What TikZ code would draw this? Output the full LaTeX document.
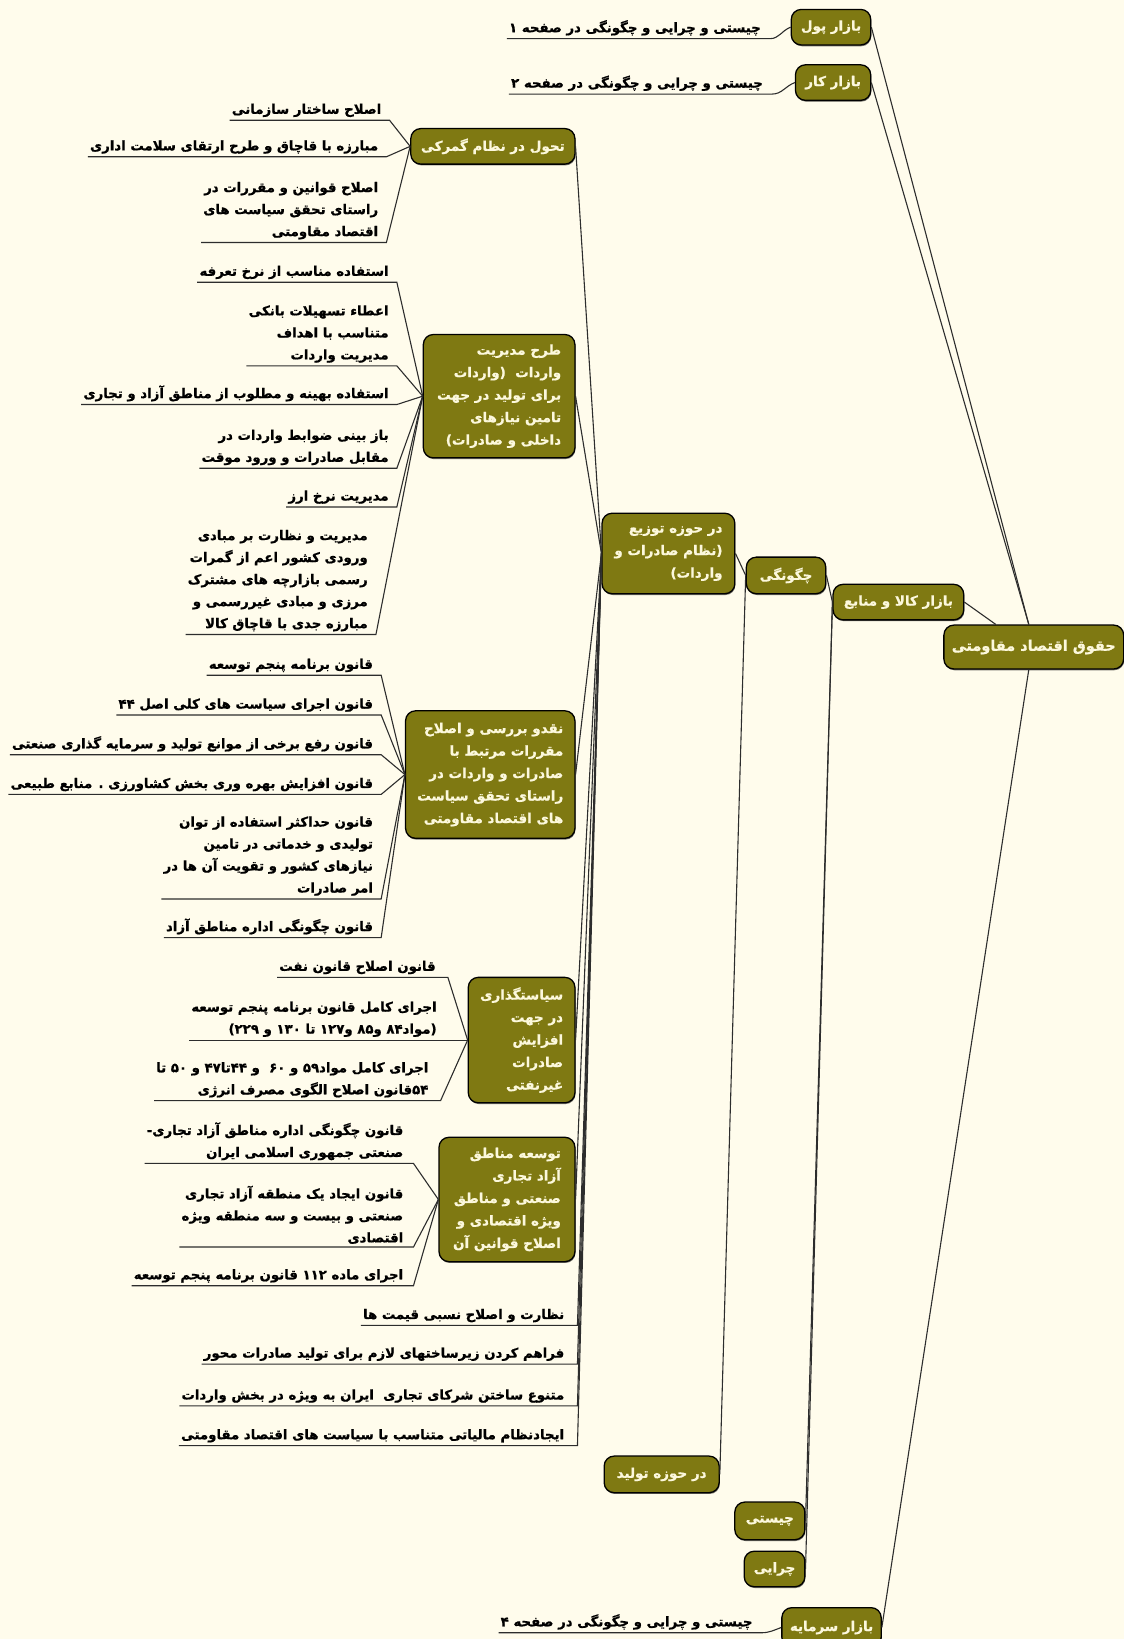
\documentclass[tikz,border=0pt]{standalone}
\usepackage{fontspec}
\newfontfamily\fa[Script=Arabic, BoldFeatures={FakeBold=0.9}]{DejaVu Sans}
\TeXXeTstate=1
\usetikzlibrary{shadows}
\definecolor{bg}{RGB}{255,252,236}
\definecolor{olivebox}{RGB}{127,121,18}
\definecolor{boxtext}{RGB}{252,248,220}
\definecolor{linec}{RGB}{45,45,45}
\newcommand\RL[1]{\beginR#1\endR}
\begin{document}
\begin{tikzpicture}[x=1.0456pt,y=-1.0456pt,
  bw/.style={minimum width=#1*1.0456pt},
  bh/.style={minimum height=#1*1.0456pt},
  box/.style={rounded corners=10pt, fill=olivebox, draw=black, line width=1.3pt,
    text=boxtext, font=\fa\bfseries\fontsize{13.5}{22.5}\selectfont, align=right, inner sep=2pt,
    drop shadow={shadow xshift=0.6pt, shadow yshift=-1.3pt, opacity=0.55, fill=black}},
  leaf/.style={anchor=south east, inner xsep=0pt, inner ysep=3pt,
    font=\fa\bfseries\fontsize{13.3}{22}\selectfont, align=right, text=black},
  conn/.style={draw=linec, line width=1.1pt}]
\fill[bg] (0,0) rectangle (1075,1568);
\useasboundingbox (0,0) rectangle (1075,1568);

% boxes
\node[box,bw=172,bh=42,font=\fa\bfseries\fontsize{14.5}{22}\selectfont] (root) at (989,619) {\RL{حقوق اقتصاد مقاومتی}};
\node[box,bw=76,bh=34] (pool) at (795,26) {\RL{بازار پول}};
\node[box,bw=72,bh=34] (kar) at (797,79) {\RL{بازار کار}};
\node[box,bw=125,bh=34] (kala) at (859.5,576) {\RL{بازار کالا و منابع}};
\node[box,bw=76,bh=35] (chg) at (752,550.5) {\RL{چگونگی}};
\node[box,bw=127,bh=77] (tozi) at (639.5,529.5) {\RL{در حوزه توزیع}\\\RL{(نظام صادرات و}\\\RL{واردات)}};
\node[box,bw=110,bh=35] (tolid) at (633,1410.5) {\RL{در حوزه تولید}};
\node[box,bw=67,bh=36] (chisti) at (736.5,1455) {\RL{چیستی}};
\node[box,bw=58,bh=34] (cheraei) at (741,1501) {\RL{چرایی}};
\node[box,bw=95,bh=38] (sarmaye) at (795.5,1557) {\RL{بازار سرمایه}};
\node[box,bw=157,bh=34] (gomrok) at (471.5,140) {\RL{تحول در نظام گمرکی}};
\node[box,bw=145,bh=118] (tarh) at (477.5,379) {\RL{طرح مدیریت}\\\RL{واردات\ \ (واردات}\\\RL{برای تولید در جهت}\\\RL{تامین نیازهای}\\\RL{داخلی و صادرات)}};
\node[box,bw=162,bh=122] (naghd) at (469,741) {\RL{نقدو بررسی و اصلاح}\\\RL{مقررات مرتبط با}\\\RL{صادرات و واردات در}\\\RL{راستای تحقق سیاست}\\\RL{های اقتصاد مقاومتی}};
\node[box,bw=102,bh=120] (siasat) at (499,995) {\RL{سیاستگذاری}\\\RL{در جهت}\\\RL{افزایش}\\\RL{صادرات}\\\RL{غیرنفتی}};
\node[box,bw=130,bh=119] (tosee) at (485,1147.5) {\RL{توسعه مناطق}\\\RL{آزاد تجاری}\\\RL{صنعتی و مناطق}\\\RL{ویژه اقتصادی و}\\\RL{اصلاح قوانین آن}};

% leaves
\node[leaf] (p1) at (728,37) {\RL{چیستی و چرایی و چگونگی در صفحه ۱}};
\node[leaf] (p2) at (730,90) {\RL{چیستی و چرایی و چگونگی در صفحه ۲}};
\node[leaf] (p4) at (720,1562) {\RL{چیستی و چرایی و چگونگی در صفحه ۴}};

\node[leaf] (g1) at (365,115) {\RL{اصلاح ساختار سازمانی}};
\node[leaf] (g2) at (362,150) {\RL{مبارزه با قاچاق و طرح ارتقای سلامت اداری}};
\node[leaf] (g3) at (362,232) {\RL{اصلاح قوانین و مقررات در}\\\RL{راستای تحقق سیاست های}\\\RL{اقتصاد مقاومتی}};

\node[leaf] (t1) at (372,270) {\RL{استفاده مناسب از نرخ تعرفه}};
\node[leaf] (t2) at (372,350) {\RL{اعطاء تسهیلات بانکی}\\\RL{متناسب با اهداف}\\\RL{مدیریت واردات}};
\node[leaf] (t3) at (372,387) {\RL{استفاده بهینه و مطلوب از مناطق آزاد و تجاری}};
\node[leaf] (t4) at (372,448) {\RL{باز بینی ضوابط واردات در}\\\RL{مقابل صادرات و ورود موقت}};
\node[leaf] (t5) at (372,485) {\RL{مدیریت نرخ ارز}};
\node[leaf] (t6) at (352,607) {\RL{مدیریت و نظارت بر مبادی}\\\RL{ورودی کشور اعم از گمرات}\\\RL{رسمی بازارچه های مشترک}\\\RL{مرزی و مبادی غیررسمی و}\\\RL{مبارزه جدی با قاچاق کالا}};

\node[leaf] (n1) at (357,646) {\RL{قانون برنامه پنجم توسعه}};
\node[leaf] (n2) at (357,684) {\RL{قانون اجرای سیاست های کلی اصل ۴۴}};
\node[leaf] (n3) at (357,722) {\RL{قانون رفع برخی از موانع تولید و سرمایه گذاری صنعتی}};
\node[leaf] (n4) at (357,760) {\RL{قانون افزایش بهره وری بخش کشاورزی . منابع طبیعی}};
\node[leaf] (n5) at (357,860) {\RL{قانون حداکثر استفاده از توان}\\\RL{تولیدی و خدماتی در تامین}\\\RL{نیازهای کشور و تقویت آن ها در}\\\RL{امر صادرات}};
\node[leaf] (n6) at (357,897) {\RL{قانون چگونگی اداره مناطق آزاد}};

\node[leaf] (s1) at (417,935) {\RL{قانون اصلاح قانون نفت}};
\node[leaf] (s2) at (418,995) {\RL{اجرای کامل قانون برنامه پنجم توسعه}\\\RL{(مواد۸۴ و۸۵ و۱۲۷ تا ۱۳۰ و ۲۲۹)}};
\node[leaf] (s3) at (410,1053) {\RL{اجرای کامل مواد۵۹ و ۶۰\ \ و ۴۴تا۴۷ و ۵۰ تا}\\\RL{۵۴قانون اصلاح الگوی مصرف انرژی}};

\node[leaf] (e1) at (386,1113) {\RL{قانون چگونگی اداره مناطق آزاد تجاری-}\\\RL{صنعتی جمهوری اسلامی ایران}};
\node[leaf] (e2) at (386,1193) {\RL{قانون ایجاد یک منطقه آزاد تجاری}\\\RL{صنعتی و بیست و سه منطقه ویژه}\\\RL{اقتصادی}};
\node[leaf] (e3) at (386,1230) {\RL{اجرای ماده ۱۱۲ قانون برنامه پنجم توسعه}};

\node[leaf] (d1) at (540,1268) {\RL{نظارت و اصلاح نسبی قیمت ها}};
\node[leaf] (d2) at (540,1305) {\RL{فراهم کردن زیرساختهای لازم برای تولید صادرات محور}};
\node[leaf] (d3) at (540,1345) {\RL{متنوع ساختن شرکای تجاری\ \ ایران به ویژه در بخش واردات}};
\node[leaf] (d4) at (540,1383) {\RL{ایجادنظام مالیاتی متناسب با سیاست های اقتصاد مقاومتی}};

% connectors
\draw[conn] ([xshift=-5pt]root.north) -- (pool.east);
\draw[conn] ([xshift=-5pt]root.north) -- (kar.east);
\draw[conn] ([xshift=-38pt]root.north) -- (kala.east);
\draw[conn] ([xshift=-5pt]root.south) -- (sarmaye.east);
\draw[conn] (kala.west) -- (chg.east);
\draw[conn] (kala.west) -- (chisti.east);
\draw[conn] (kala.west) -- (cheraei.east);
\draw[conn] (chg.west) -- (tozi.east);
\draw[conn] (chg.west) -- (tolid.east);
\foreach \b in {gomrok,tarh,naghd,siasat,tosee}
  \draw[conn] (tozi.west) -- (\b.east);

\draw[conn] ([xshift=-2pt]p1.south west) -- ([xshift=9pt]p1.south east) to[out=0,in=200] (pool.west);
\draw[conn] ([xshift=-2pt]p2.south west) -- ([xshift=9pt]p2.south east) to[out=0,in=200] (kar.west);
\draw[conn] ([xshift=-2pt]p4.south west) -- ([xshift=9pt]p4.south east) to[out=0,in=200] (sarmaye.west);

\foreach \n in {g1,g2,g3}
  \draw[conn] ([xshift=-2pt]\n.south west) -- ([xshift=8pt]\n.south east) -- (gomrok.west);
\foreach \n in {t1,t2,t3,t4,t5,t6}
  \draw[conn] ([xshift=-2pt]\n.south west) -- ([xshift=8pt]\n.south east) -- (tarh.west);
\foreach \n in {n1,n2,n3,n4,n5,n6}
  \draw[conn] ([xshift=-2pt]\n.south west) -- ([xshift=8pt]\n.south east) -- (naghd.west);
\foreach \n in {s1,s2,s3}
  \draw[conn] ([xshift=-2pt]\n.south west) -- ([xshift=12pt]\n.south east) -- (siasat.west);
\foreach \n in {e1,e2,e3}
  \draw[conn] ([xshift=-2pt]\n.south west) -- ([xshift=10pt]\n.south east) -- (tosee.west);
\foreach \n in {d1,d2,d3,d4}
  \draw[conn] ([xshift=-2pt]\n.south west) -- ([xshift=13pt]\n.south east) -- (tozi.west);
\end{tikzpicture}
\end{document}
